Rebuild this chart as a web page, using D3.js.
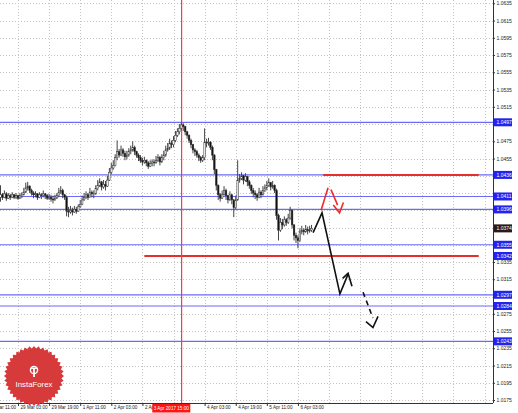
<!DOCTYPE html>
<html>
<head>
<meta charset="utf-8">
<script src="https://cdn.jsdelivr.net/npm/d3@7"></script>
<style>
html,body{margin:0;padding:0;background:#fff;}
svg{display:block;}
text{font-family:"Liberation Sans",Arial,sans-serif;}
</style>
</head>
<body>
<svg id="chart" width="518" height="413"></svg>
<script>
// ---------------- DATA ----------------
const closes = [
1.0413,1.0410,1.0414,1.0409,1.0412,1.0410,1.0413,1.0410,1.0412,1.0409,
1.0412,1.0413,1.0416,1.0421,1.0423,1.0418,1.0415,1.0413,1.0414,1.0410,
1.0413,1.0412,1.0414,1.0412,1.0409,1.0410,1.0408,1.0407,1.0409,1.0412,
1.0416,1.0418,1.0413,1.0410,1.0394,1.0393,1.0395,1.0393,1.0396,1.0394,
1.0399,1.0402,1.0407,1.0410,1.0413,1.0410,1.0416,1.0414,1.0414,1.0420,
1.0424,1.0428,1.0422,1.0425,1.0423,1.0430,1.0439,1.0444,1.0447,1.0456,
1.0463,1.0459,1.0465,1.0461,1.0457,1.0459,1.0463,1.0465,1.0468,1.0463,
1.0459,1.0456,1.0453,1.0451,1.0453,1.0450,1.0446,1.0449,1.0451,1.0450,
1.0453,1.0456,1.0451,1.0456,1.0459,1.0465,1.0467,1.0473,1.0471,1.0476,
1.0482,1.0486,1.0490,1.0494,1.0492,1.0486,1.0482,1.0476,1.0471,1.0465,
1.0463,1.0459,1.0456,1.0453,1.0456,1.0474,1.0473,1.0474,1.0468,1.0459,
1.0442,1.0424,1.0413,1.0409,1.0413,1.0418,1.0412,1.0407,1.0413,1.0407,
1.0398,1.0407,1.0430,1.0432,1.0435,1.0430,1.0434,1.0428,1.0424,1.0418,
1.0415,1.0413,1.0410,1.0416,1.0413,1.0418,1.0421,1.0424,1.0427,1.0422,
1.0424,1.0418,1.0389,1.0372,1.0381,1.0378,1.0384,1.0381,1.0386,1.0395,
1.0378,1.0366,1.0363,1.0360,1.0370,1.0372,1.0370,1.0373,1.0371,1.0372,
1.0374
];
const highs = [
1.0424,1.0415,1.0418,1.0416,1.0415,1.0414,1.0416,1.0414,1.0415,1.0413,
1.0415,1.0416,1.0421,1.0427,1.0428,1.0424,1.0420,1.0417,1.0417,1.0415,
1.0416,1.0415,1.0418,1.0415,1.0414,1.0414,1.0413,1.0412,1.0413,1.0415,
1.0421,1.0423,1.0420,1.0414,1.0412,1.0399,1.0400,1.0398,1.0400,1.0399,
1.0402,1.0407,1.0412,1.0415,1.0417,1.0415,1.0421,1.0418,1.0418,1.0424,
1.0430,1.0432,1.0429,1.0430,1.0429,1.0435,1.0444,1.0450,1.0453,1.0460,
1.0476,1.0466,1.0470,1.0467,1.0464,1.0464,1.0467,1.0470,1.0475,1.0470,
1.0464,1.0461,1.0459,1.0456,1.0457,1.0454,1.0452,1.0453,1.0454,1.0454,
1.0458,1.0460,1.0458,1.0460,1.0464,1.0470,1.0473,1.0478,1.0476,1.0481,
1.0487,1.0490,1.0495,1.0497,1.0496,1.0493,1.0487,1.0483,1.0478,1.0472,
1.0467,1.0465,1.0461,1.0458,1.0459,1.0490,1.0478,1.0479,1.0475,1.0470,
1.0460,1.0443,1.0425,1.0415,1.0418,1.0423,1.0420,1.0413,1.0417,1.0414,
1.0408,1.0412,1.0453,1.0437,1.0439,1.0436,1.0438,1.0435,1.0430,1.0425,
1.0421,1.0418,1.0415,1.0421,1.0418,1.0423,1.0425,1.0429,1.0432,1.0428,
1.0429,1.0425,1.0420,1.0391,1.0386,1.0385,1.0388,1.0386,1.0391,1.0399,
1.0396,1.0379,1.0369,1.0366,1.0374,1.0377,1.0374,1.0378,1.0376,1.0377,
1.0378
];
const lows = [
1.0405,1.0407,1.0409,1.0406,1.0408,1.0407,1.0409,1.0408,1.0408,1.0407,
1.0408,1.0409,1.0412,1.0415,1.0418,1.0415,1.0412,1.0409,1.0410,1.0407,
1.0409,1.0408,1.0410,1.0408,1.0407,1.0407,1.0405,1.0403,1.0406,1.0408,
1.0410,1.0414,1.0409,1.0407,1.0388,1.0387,1.0391,1.0389,1.0392,1.0391,
1.0393,1.0398,1.0401,1.0406,1.0408,1.0407,1.0410,1.0410,1.0409,1.0413,
1.0418,1.0422,1.0418,1.0420,1.0418,1.0422,1.0429,1.0437,1.0442,1.0446,
1.0453,1.0456,1.0458,1.0457,1.0453,1.0454,1.0457,1.0460,1.0463,1.0459,
1.0456,1.0452,1.0450,1.0447,1.0449,1.0446,1.0443,1.0445,1.0446,1.0446,
1.0449,1.0451,1.0447,1.0450,1.0453,1.0457,1.0463,1.0465,1.0467,1.0468,
1.0474,1.0480,1.0483,1.0488,1.0487,1.0482,1.0478,1.0473,1.0467,1.0461,
1.0458,1.0456,1.0452,1.0450,1.0451,1.0453,1.0468,1.0470,1.0465,1.0453,
1.0437,1.0418,1.0407,1.0405,1.0408,1.0412,1.0407,1.0403,1.0406,1.0402,
1.0387,1.0396,1.0406,1.0427,1.0430,1.0425,1.0428,1.0423,1.0420,1.0414,
1.0410,1.0408,1.0406,1.0409,1.0409,1.0412,1.0416,1.0418,1.0422,1.0418,
1.0420,1.0415,1.0384,1.0360,1.0370,1.0373,1.0376,1.0377,1.0379,1.0384,
1.0374,1.0360,1.0357,1.0351,1.0358,1.0367,1.0366,1.0369,1.0367,1.0369,
1.0370
];
const firstOpen = 1.0410;

const priceTicks = [1.0175,1.0195,1.0215,1.0235,1.0255,1.0275,1.0295,1.0315,1.0335,1.0355,
  1.0375,1.0395,1.0415,1.0435,1.0455,1.0475,1.0495,1.0515,1.0535,1.0555,1.0575,1.0595,1.0615,1.0635];
const timeTickBars = [-7, 9, 25, 41, 57, 73, 89, 105, 121, 137, 153];
const timeTickLabels = ["28 Mar 11:00","29 Mar 03:00","29 Mar 19:00","1 Apr 11:00","2 Apr 03:00",
  "2 Apr 19:00","","4 Apr 03:00","4 Apr 19:00","5 Apr 11:00","6 Apr 03:00"];

const blueLevels = [1.0497, 1.0436, 1.0411, 1.0396, 1.0355, 1.0297, 1.0284, 1.0243];
const redLevels = [ {price: 1.0436, fromBar: 166, toBar: 246}, {price: 1.0342, fromBar: 74, toBar: 246} ];
const levelLabels = [1.0497, 1.0436, 1.0411, 1.0396, 1.0355, 1.0342, 1.0297, 1.0284, 1.0243];
const currentPrice = 1.0374;

const crosshairBar = 93;
const crosshairLabel = "3 Apr 2017 15:00";

// forecast sketch (bar index, price)
const blackPath = [[160.8,1.0369],[165.4,1.0392],[174.6,1.0298],[178.8,1.0321]];
const blackHead = [[176.0,1.0316],[178.8,1.0322],[180.8,1.0307]];
const blackDash = [[186.5,1.0300],[191.6,1.0270]];
const blackDashHead = [[188.0,1.0266],[191.6,1.0259],[194.2,1.0272]];
const redUp = [[164.9,1.0395],[168.5,1.0421]];
const redDown = [[170.0,1.0419],[173.4,1.0401]];
const redHead = [[171.2,1.0401],[174.4,1.0392],[176.4,1.0404]];

const brandName = "InstaForex";

// ---------------- LAYOUT ----------------
const W = 518, H = 413;
const plotRight = 493, plotBottom = 403;
const svg = d3.select("#chart");
svg.append("rect").attr("width", W).attr("height", H).attr("fill", "#fff");

const x = d3.scaleLinear().domain([0, 250]).range([0.5, 0.5 + 250 * 1.944]);
const y = d3.scaleLinear().domain([1.0175, 1.0635]).range([400, 3.3]);

svg.append("defs").append("clipPath").attr("id", "plot")
  .append("rect").attr("x", 0).attr("y", 0).attr("width", plotRight).attr("height", plotBottom);

const plot = svg.append("g").attr("clip-path", "url(#plot)");

// grid
const gridBars = d3.range(-7, 260, 16);
plot.selectAll("line.vg").data(gridBars).join("line")
  .attr("x1", d => Math.round(x(d)) + 0.5).attr("x2", d => Math.round(x(d)) + 0.5)
  .attr("y1", 0).attr("y2", plotBottom)
  .attr("stroke", "#c4c4c4").attr("stroke-width", 1).attr("stroke-dasharray", "1,2");
plot.selectAll("line.hg").data(priceTicks).join("line")
  .attr("x1", 0).attr("x2", plotRight)
  .attr("y1", d => Math.round(y(d)) + 0.5).attr("y2", d => Math.round(y(d)) + 0.5)
  .attr("stroke", "#c4c4c4").attr("stroke-width", 1).attr("stroke-dasharray", "1,2");

// blue levels
plot.selectAll("line.bl").data(blueLevels).join("line")
  .attr("x1", 0).attr("x2", plotRight)
  .attr("y1", d => y(d)).attr("y2", d => y(d))
  .attr("stroke", "#6b6bf6").attr("stroke-width", 1.2);

// red levels
plot.selectAll("line.rl").data(redLevels).join("line")
  .attr("x1", d => x(d.fromBar)).attr("x2", d => x(d.toBar))
  .attr("y1", d => y(d.price)).attr("y2", d => y(d.price))
  .attr("stroke", "#e2302c").attr("stroke-width", 2);

// crosshair vertical
const chx = Math.round(x(crosshairBar));
plot.append("rect")
  .attr("x", chx).attr("y", 0).attr("width", 1.2).attr("height", plotBottom)
  .attr("fill", "#ff3a3a");

// candles
const bars = closes.map((c, i) => ({
  i, o: i === 0 ? firstOpen : closes[i - 1], c, h: highs[i], l: lows[i]
}));
const cg = plot.append("g");
cg.selectAll("line.wick").data(bars).join("line")
  .attr("x1", d => x(d.i)).attr("x2", d => x(d.i))
  .attr("y1", d => y(d.h)).attr("y2", d => y(d.l))
  .attr("stroke", "#444").attr("stroke-width", 1);
cg.selectAll("rect.body").data(bars).join("rect")
  .attr("x", d => x(d.i) - 0.8)
  .attr("width", 1.6)
  .attr("y", d => y(Math.max(d.o, d.c)))
  .attr("height", d => Math.max(0.8, Math.abs(y(d.o) - y(d.c))))
  .attr("fill", d => d.c >= d.o ? "#f4f4f4" : "#111")
  .attr("stroke", "#333").attr("stroke-width", 0.5);

// forecast sketch
const ln = d3.line().x(d => x(d[0])).y(d => y(d[1]));
function drawPath(pts, color, dash) {
  plot.append("path").attr("d", ln(pts)).attr("fill", "none")
    .attr("stroke", color).attr("stroke-width", 1.6)
    .attr("stroke-linejoin", "miter")
    .attr("stroke-dasharray", dash || null);
}
drawPath(blackPath, "#111");
drawPath(blackHead, "#111");
drawPath(blackDash, "#111", "5,4");
drawPath(blackDashHead, "#111");
drawPath(redUp, "#ee2a2a");
drawPath(redDown, "#ee2a2a");
drawPath(redHead, "#ee2a2a");

// axes
const coveredTick = d => levelLabels.concat([currentPrice]).some(p => Math.abs(y(p) - y(d)) < 4.6);
const axisRight = d3.axisRight(y).tickValues(priceTicks).tickSize(2)
  .tickFormat(d => coveredTick(d) ? "" : d3.format(".4f")(d));
const gr = svg.append("g").attr("transform", `translate(${plotRight},0)`).call(axisRight);
gr.select(".domain").attr("d", `M0.5,0V${plotBottom}`).attr("stroke", "#333");
gr.selectAll(".tick line").attr("stroke", "#333");
gr.selectAll(".tick text").attr("x", 3.5).attr("font-size", 5).attr("fill", "#222");

const axisBottom = d3.axisBottom(x).tickValues(timeTickBars).tickSize(3)
  .tickFormat((d, i) => timeTickLabels[i]);
const gb = svg.append("g").attr("transform", `translate(0,${plotBottom})`).call(axisBottom);
gb.select(".domain").attr("d", `M0,0.5H${plotRight}`).attr("stroke", "#333");
gb.selectAll(".tick line").attr("stroke", "#333");
gb.selectAll(".tick text").attr("text-anchor", "start").attr("x", 2).attr("y", 3)
  .attr("font-size", 4.6).attr("fill", "#222");

// level label boxes on right axis
const lb = svg.append("g");
const lbG = lb.selectAll("g").data(levelLabels).join("g")
  .attr("transform", d => `translate(${plotRight + 1},${y(d)})`);
lbG.append("rect").attr("x", 0).attr("y", -4).attr("width", 18).attr("height", 8).attr("fill", "#2323ee");
lbG.append("text").attr("x", 2.5).attr("dy", "0.35em").attr("font-size", 5).attr("fill", "#fff")
  .text(d => d3.format(".4f")(d));
const cp = svg.append("g").attr("transform", `translate(${plotRight + 1},${y(currentPrice)})`);
cp.append("rect").attr("x", 0).attr("y", -4).attr("width", 18).attr("height", 8).attr("fill", "#2a1a1a");
cp.append("text").attr("x", 2.5).attr("dy", "0.35em").attr("font-size", 5).attr("fill", "#fff")
  .text(d3.format(".4f")(currentPrice));

// crosshair time box
const cx = x(crosshairBar);
svg.append("rect").attr("x", cx - 29).attr("y", plotBottom + 1).attr("width", 38).attr("height", 8.5).attr("fill", "#ff1414");
svg.append("text").attr("x", cx - 10).attr("y", plotBottom + 7.3).attr("text-anchor", "middle")
  .attr("font-size", 4.6).attr("fill", "#fff").text(crosshairLabel);

// logo badge
const logo = svg.append("g").attr("transform", "translate(34,376)");
const nSpikes = 40;
const starPts = d3.range(nSpikes * 2).map(k => [k * Math.PI / nSpikes, k % 2 === 0 ? 30 : 27.5]);
logo.append("path").attr("d", d3.lineRadial().curve(d3.curveLinearClosed)(starPts)).attr("fill", "#d63a3a");
logo.append("circle").attr("r", 3.6).attr("cy", -6).attr("fill", "none").attr("stroke", "#fff").attr("stroke-width", 1.4);
logo.append("rect").attr("x", -0.9).attr("y", -8).attr("width", 1.8).attr("height", 9).attr("fill", "#fff");
logo.append("rect").attr("x", -3.2).attr("y", -8.5).attr("width", 6.4).attr("height", 1.4).attr("fill", "#fff");
logo.append("text").attr("y", 11).attr("text-anchor", "middle").attr("font-size", 7.8)
  .attr("fill", "#fff").text(brandName);
</script>
</body>
</html>
